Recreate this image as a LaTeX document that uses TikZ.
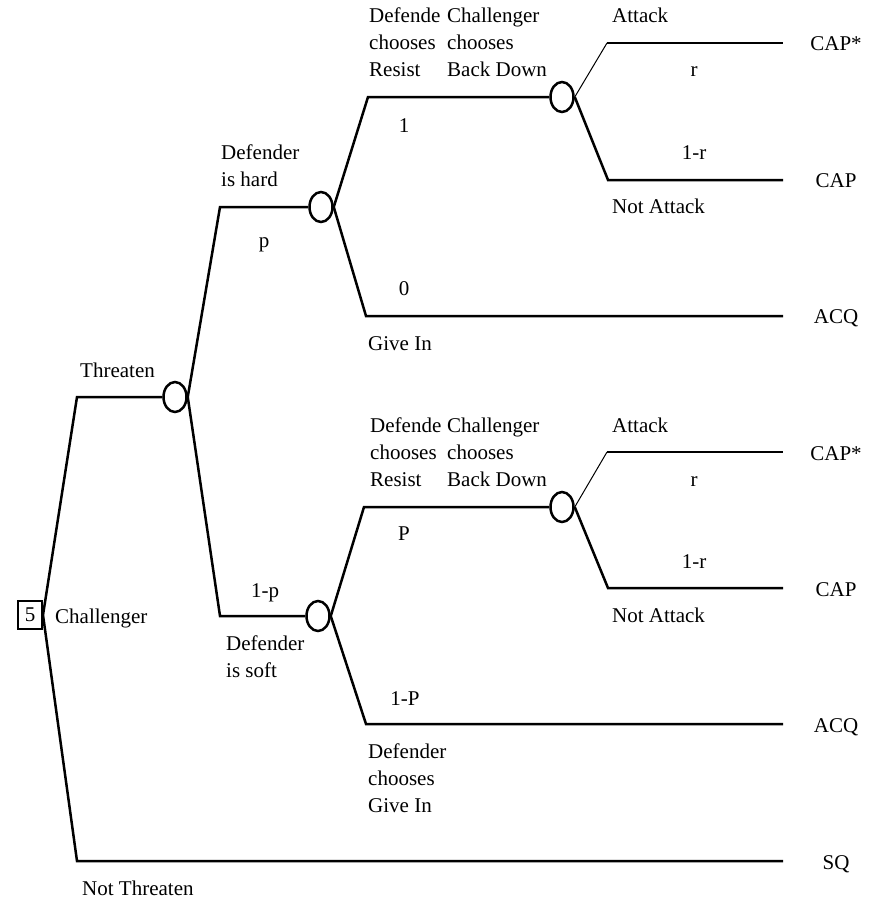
\documentclass[tikz,border=0pt]{standalone}
\usepackage{fontspec}
\setmainfont{Liberation Serif}
\usetikzlibrary{shapes.geometric}
\begin{document}
\begin{tikzpicture}[x=1pt,y=-1pt,
  lbl/.style={font=\fontsize{21}{27}\selectfont, inner sep=0pt, align=left, anchor=base west},
  clbl/.style={font=\fontsize{21}{27}\selectfont, inner sep=0pt, anchor=base},
  br/.style={line width=2.5pt},
  thinbr/.style={line width=1pt},
  chance/.style={ellipse, draw, line width=2.5pt, minimum width=23pt, minimum height=30pt, inner sep=0pt},
  decbox/.style={draw, line width=2pt, minimum width=24pt, minimum height=28pt, inner sep=0pt, font=\fontsize{21}{27}\selectfont}
]
\useasboundingbox (0,0) rectangle (879,899);
% decision and chance nodes
\node[decbox] (root) at (30,615) {5};
\node[chance] (c1) at (175,397) {};
\node[chance] (d1) at (321,207) {};
\node[chance] (d2) at (318,616) {};
\node[chance] (a1) at (562,97) {};
\node[chance] (a2) at (562,507) {};
% corner coordinates
\coordinate (t) at (77,397);
\coordinate (nt) at (77,861);
\coordinate (hard) at (220,207);
\coordinate (soft) at (220,616);
\coordinate (r1) at (368,97);
\coordinate (g1) at (366,316);
\coordinate (at1) at (607,43);
\coordinate (na1) at (608,180);
\coordinate (r2) at (364,507);
\coordinate (g2) at (366,724);
\coordinate (at2) at (607,452);
\coordinate (na2) at (608,588);
% end points
\coordinate (e1) at (783,43);
\coordinate (e2) at (783,180);
\coordinate (e3) at (783,316);
\coordinate (e4) at (783,452);
\coordinate (e5) at (783,588);
\coordinate (e6) at (783,724);
\coordinate (e7) at (783,861);
% branches
\draw[br] (root.east) -- (t) -- (c1.west);
\draw[br] (root.east) -- (nt) -- (e7);
\draw[br] (c1.east) -- (hard) -- (d1.west);
\draw[br] (c1.east) -- (soft) -- (d2.west);
\draw[br] (d1.east) -- (r1) -- (a1.west);
\draw[br] (d1.east) -- (g1) -- (e3);
\draw[thinbr] (a1.east) -- (at1);
\draw[br] (at1) -- (e1);
\draw[br] (a1.east) -- (na1) -- (e2);
\draw[br] (d2.east) -- (r2) -- (a2.west);
\draw[br] (d2.east) -- (g2) -- (e6);
\draw[thinbr] (a2.east) -- (at2);
\draw[br] (at2) -- (e4);
\draw[br] (a2.east) -- (na2) -- (e5);
% outcome labels
\node[clbl] (o1) at (836,51) {CAP*};
\node[clbl] (o2) at (836,187) {CAP};
\node[clbl] (o3) at (836,323) {ACQ};
\node[clbl] (o4) at (836,460) {CAP*};
\node[clbl] (o5) at (836,596) {CAP};
\node[clbl] (o6) at (836,732) {ACQ};
\node[clbl] (o7) at (836,869) {SQ};
% branch labels (multi-line: base = last line)
\node[lbl] (thr) at (80,377) {Threaten};
\node[lbl] (nthr) at (82,895) {Not Threaten};
\node[lbl] (chal) at (55,623) {Challenger};
\node[lbl] (dh) at (221,186) {Defender\\is hard};
\node[clbl] (pl) at (264,247) {p};
\node[clbl] (ompl) at (265,597) {1-p};
\node[lbl] (ds) at (226,677) {Defender\\is soft};
\node[lbl] (dcr1) at (369,77) {Defende\\chooses\\Resist};
\node[lbl] (ccb1) at (447,77) {Challenger\\chooses\\Back Down};
\node[lbl] (att1) at (612,23) {Attack};
\node[clbl] (rl1) at (694,77) {r};
\node[clbl] (omr1) at (694,159) {1-r};
\node[lbl] (nat1) at (612,213) {Not Attack};
\node[clbl] (one) at (404,132) {1};
\node[clbl] (zero) at (404,295) {0};
\node[lbl] (gi1) at (368,350) {Give In};
\node[lbl] (dcr2) at (370,486) {Defende\\chooses\\Resist};
\node[lbl] (ccb2) at (447,486) {Challenger\\chooses\\Back Down};
\node[lbl] (att2) at (612,432) {Attack};
\node[clbl] (rl2) at (694,486) {r};
\node[clbl] (omr2) at (694,568) {1-r};
\node[lbl] (nat2) at (612,622) {Not Attack};
\node[clbl] (bigp) at (404,540) {P};
\node[clbl] (ombigp) at (405,705) {1-P};
\node[lbl] (dcg) at (368,812) {Defender\\chooses\\Give In};
\end{tikzpicture}
\end{document}
